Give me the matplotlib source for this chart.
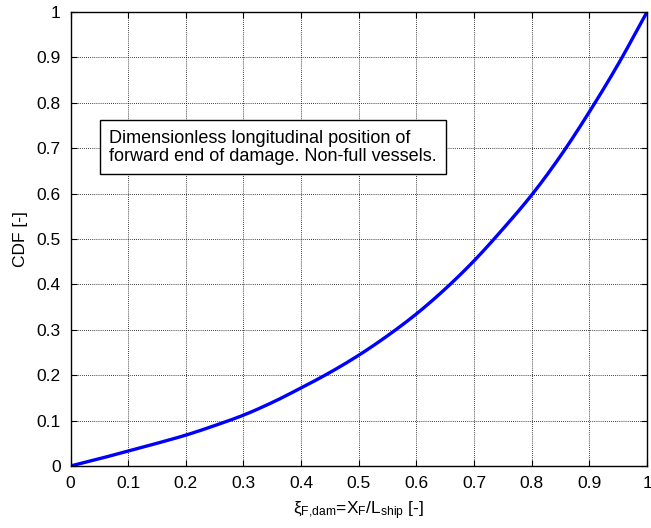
import matplotlib
matplotlib.use("Agg")
import matplotlib.pyplot as plt
import numpy as np

plt.rcParams['font.family'] = ['Liberation Sans', 'DejaVu Sans']
plt.rcParams['mathtext.fontset'] = 'custom'
plt.rcParams['mathtext.rm'] = 'Liberation Sans'
plt.rcParams['mathtext.it'] = 'Liberation Sans:italic'

x_vals = [0.0, 0.05, 0.1, 0.15, 0.2, 0.25, 0.3, 0.35, 0.4, 0.45, 0.5, 0.55, 0.6, 0.65, 0.7, 0.75, 0.8, 0.85, 0.9, 0.95, 1.0]
cdf_vals = [0.0, 0.016, 0.033, 0.050, 0.068, 0.089, 0.112, 0.140, 0.172, 0.206, 0.244, 0.287, 0.335, 0.390, 0.452, 0.522, 0.597, 0.683, 0.780, 0.885, 1.0]
x_ticks = [0.0, 0.1, 0.2, 0.3, 0.4, 0.5, 0.6, 0.7, 0.8, 0.9, 1.0]
x_ticklabels = ['0', '0.1', '0.2', '0.3', '0.4', '0.5', '0.6', '0.7', '0.8', '0.9', '1']
y_ticks = [0.0, 0.1, 0.2, 0.3, 0.4, 0.5, 0.6, 0.7, 0.8, 0.9, 1.0]
y_ticklabels = ['0', '0.1', '0.2', '0.3', '0.4', '0.5', '0.6', '0.7', '0.8', '0.9', '1']


def pchip(xk, yk, xq):
    xk = np.asarray(xk, float); yk = np.asarray(yk, float)
    h = np.diff(xk); d = np.diff(yk) / h
    n = len(xk); m = np.zeros(n)
    for i in range(1, n - 1):
        if d[i - 1] * d[i] > 0:
            w1 = 2 * h[i] + h[i - 1]; w2 = h[i] + 2 * h[i - 1]
            m[i] = (w1 + w2) / (w1 / d[i - 1] + w2 / d[i])
    m[0] = d[0]; m[-1] = d[-1]
    idx = np.clip(np.searchsorted(xk, xq) - 1, 0, n - 2)
    t = (xq - xk[idx]) / h[idx]
    h00 = 2 * t**3 - 3 * t**2 + 1; h10 = t**3 - 2 * t**2 + t
    h01 = -2 * t**3 + 3 * t**2; h11 = t**3 - t**2
    return h00 * yk[idx] + h10 * h[idx] * m[idx] + h01 * yk[idx + 1] + h11 * h[idx] * m[idx + 1]


fig = plt.figure(figsize=(6.51, 5.28), dpi=100)
ax = fig.add_axes([70.5/651, 62/528, 576.5/651, 454/528])

xf = np.linspace(0, 1, 400)
yf = pchip(x_vals, cdf_vals, xf)
ax.plot(xf, yf, color='#0000ff', linewidth=2.4, solid_capstyle='round')

ax.set_xlim(0, 1)
ax.set_ylim(0, 1)
ax.set_xticks(x_ticks)
ax.set_xticklabels(x_ticklabels)
ax.set_yticks(y_ticks)
ax.set_yticklabels(y_ticklabels)
ax.tick_params(direction='in', top=True, right=True, labelsize=12.5, length=4, width=0.8, pad=7)
ax.grid(True, color='black', linestyle=(0, (1, 1.5)), linewidth=0.6)
for s in ax.spines.values():
    s.set_linewidth(1.0)

ax.set_xlabel('ξ$_{\\mathrm{F{,}dam}}$=X$_\\mathrm{F}$/L$_\\mathrm{ship}$ [-]', fontsize=12.5, labelpad=6)
ax.set_ylabel('CDF [-]', fontsize=12.5, labelpad=6)

ax.text(0.067, 0.702, 'Dimensionless longitudinal position of\nforward end of damage. Non-full vessels.',
        transform=ax.transAxes, fontsize=13, va='center', ha='left', linespacing=1.12,
        bbox=dict(boxstyle='square,pad=0.5', facecolor='white', edgecolor='black', linewidth=1.0))

fig.savefig('out.png', dpi=100)
